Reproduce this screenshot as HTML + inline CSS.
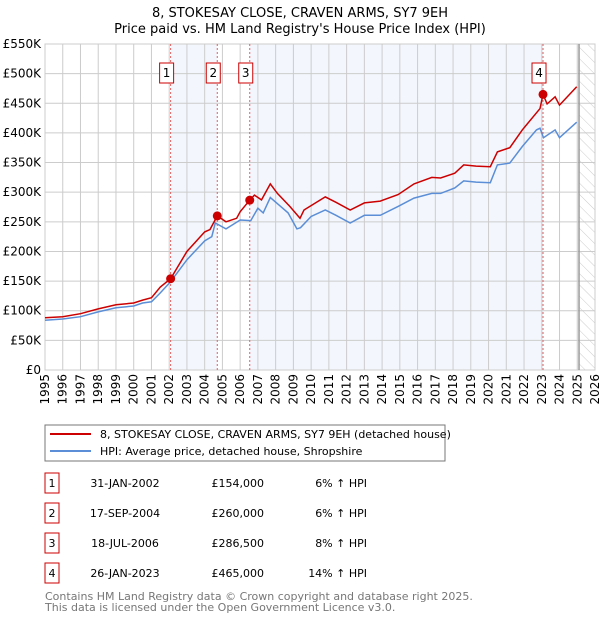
<!DOCTYPE html>
<html><head><meta charset="utf-8"><style>
body{margin:0;background:#fff}
svg text{font-family:"DejaVu Sans","Liberation Sans",sans-serif}
</style></head><body>
<svg id="c" width="600" height="620" xmlns="http://www.w3.org/2000/svg"></svg>
<script>
const hpiYears=[1995,1996,1997,1998,1999,2000,2000.5,2001,2001.5,2002.08,2003,2004,2004.4,2004.6,2005.2,2006,2006.6,2007,2007.3,2007.7,2008.2,2008.7,2009.2,2009.4,2010,2010.8,2011.4,2012.2,2013,2013.9,2014.9,2015.8,2016.8,2017.3,2018.1,2018.6,2019.3,2020.1,2020.5,2021.2,2021.9,2022.7,2022.9,2023.1,2023.75,2024.0,2024.97];
const hpiValues=[84,86,90,98,105,108,113,115,130,149,186,218,225,248,238,253,252,273,265,291,278,265,238,240,259,270,261,248,261,261,276,290,298,298,307,319,317,316,346,349,377,405,408,392,405,392,418];
const redYears=[1995,1996,1997,1998,1999,2000,2000.5,2001,2001.5,2002.08,2003,2004,2004.3,2004.71,2005.2,2005.8,2006.0,2006.54,2006.8,2007.2,2007.7,2008.1,2008.8,2009.37,2009.6,2010.8,2011.4,2012.2,2013,2013.9,2014.9,2015.8,2016.8,2017.3,2018.1,2018.6,2019.3,2020.1,2020.5,2021.2,2021.9,2022.9,2023.07,2023.3,2023.75,2024.0,2024.97];
const redValues=[88,90,95,103,110,113,118,122,140,154,200,233,237,260,250,256,267,286.5,295,287,314,298,276,256,270,292,283,270,282,285,296,314,325,324,332,346,344,343,368,375,405,441,465,449,461,447,478];
const saleYears=[2002.08,2004.71,2006.54,2023.07];
const saleValues=[154,260,286.5,465];
const saleLabels=["1","2","3","4"];
const yTicks=[0,50,100,150,200,250,300,350,400,450,500,550];
const yTickLabels=["£0","£50K","£100K","£150K","£200K","£250K","£300K","£350K","£400K","£450K","£500K","£550K"];
const xTicks=[1995,1996,1997,1998,1999,2000,2001,2002,2003,2004,2005,2006,2007,2008,2009,2010,2011,2012,2013,2014,2015,2016,2017,2018,2019,2020,2021,2022,2023,2024,2025,2026];
const rows=[["1","31-JAN-2002","£154,000","6% ↑ HPI"],["2","17-SEP-2004","£260,000","6% ↑ HPI"],["3","18-JUL-2006","£286,500","8% ↑ HPI"],["4","26-JAN-2023","£465,000","14% ↑ HPI"]];

const L=45,R=595,T=44,B=370;
const X=y=>L+(y-1995)*(R-L)/31;
const Y=v=>B-v*(B-T)/550;
const svg=document.getElementById('c');
const NS="http://www.w3.org/2000/svg";
function mk(tag,attrs,name,parent){const e=document.createElementNS(NS,tag);for(const k in attrs)e.setAttribute(k,attrs[k]);


(parent||svg).appendChild(e);return e;}
function tx(s,x,y,name,opts){const e=mk('text',Object.assign({x:x,y:y,'font-size':12,fill:'#000'},opts||{}),name);e.textContent=s;return e;}

tx("8, STOKESAY CLOSE, CRAVEN ARMS, SY7 9EH",300,17,'chart-title',{'text-anchor':'middle','font-size':13});
tx("Price paid vs. HM Land Registry's House Price Index (HPI)",300,33,'chart-subtitle',{'text-anchor':'middle','font-size':13});
mk('rect',{x:X(saleYears[0]),y:T,width:X(saleYears[1])-X(saleYears[0]),height:B-T,fill:'#eef3fc',opacity:0.7},'shade-1-2');
mk('rect',{x:X(saleYears[2]),y:T,width:X(saleYears[3])-X(saleYears[2]),height:B-T,fill:'#eef3fc',opacity:0.7},'shade-3-4');
const defs=mk('defs',{},'defs');
const pat=mk('pattern',{id:'h',width:8,height:8,patternUnits:'userSpaceOnUse',patternTransform:'rotate(-45)'},'hatch-pattern',defs);
mk('line',{x1:0,y1:0,x2:0,y2:8,stroke:'#ccc','stroke-width':1},'hatch-line',pat);
mk('rect',{x:X(2025.1),y:T,width:R-X(2025.1),height:B-T,fill:'url(#h)'},'future-hatch');
yTicks.forEach((v,i)=>{mk('line',{x1:L,x2:R,y1:Y(v),y2:Y(v),stroke:'#ccc'},'y-grid');
tx(yTickLabels[i],L-4,Y(v)+4,'y-tick-label',{'text-anchor':'end','font-size':12});});
xTicks.forEach(v=>{mk('line',{x1:X(v),x2:X(v),y1:T,y2:B,stroke:'#ccc'},'x-grid');
tx(String(v),X(v)+4,B+4,'x-tick-label',{'text-anchor':'end',transform:`rotate(-90 ${X(v)+4} ${B+4})`,'font-size':12});});
mk('rect',{x:L,y:T,width:R-L,height:B-T,fill:'none',stroke:'#ccc'},'plot-border');
mk('line',{x1:X(2025.1),x2:X(2025.1),y1:T,y2:B,stroke:'#999','stroke-width':1.5},'data-end-line');
saleYears.forEach((s,i)=>{mk('line',{x1:X(s),x2:X(s),y1:T,y2:B,stroke:'#e06060','stroke-dasharray':'2,2'},'sale-line-'+saleLabels[i]);
const bx=X(s)-4;
mk('rect',{x:bx-7,y:63,width:14,height:20,fill:'#fff',stroke:'#c00'},'sale-marker-box-'+saleLabels[i]);
tx(saleLabels[i],bx,77,'sale-marker-label',{'text-anchor':'middle'});});
function path(xs,vs){return xs.map((y,i)=>(i?'L':'M')+X(y).toFixed(1)+','+Y(vs[i]).toFixed(1)).join('');}
mk('path',{d:path(hpiYears,hpiValues),fill:'none',stroke:'#5b8ed6','stroke-width':1.5},'hpi-line');
mk('path',{d:path(redYears,redValues),fill:'none',stroke:'#cc0000','stroke-width':1.5},'property-line');
saleYears.forEach((s,i)=>mk('circle',{cx:X(s),cy:Y(saleValues[i]),r:4.5,fill:'#cc0000'},'sale-point-'+saleLabels[i]));
mk('rect',{x:45,y:425,width:400,height:36,fill:'#fff',stroke:'#777'},'legend');
mk('line',{x1:50,x2:91,y1:434,y2:434,stroke:'#cc0000','stroke-width':2},'legend-swatch-property');
tx("8, STOKESAY CLOSE, CRAVEN ARMS, SY7 9EH (detached house)",100,438,'legend-entry-property',{'font-size':11});
mk('line',{x1:50,x2:91,y1:451,y2:451,stroke:'#5b8ed6','stroke-width':2},'legend-swatch-hpi');
tx("HPI: Average price, detached house, Shropshire",100,455,'legend-entry-hpi',{'font-size':11});
rows.forEach((r,i)=>{const cy=483+i*30;
mk('rect',{x:45,y:cy-10,width:14,height:20,fill:'#fff',stroke:'#c00'},'table-badge-'+r[0]);
tx(r[0],52,cy+4,'table-badge-label',{'text-anchor':'middle','font-size':11});
tx(r[1],125,cy+4,'table-date',{'text-anchor':'middle','font-size':11});
tx(r[2],264,cy+4,'table-price',{'text-anchor':'end','font-size':11});
tx(r[3],367,cy+4,'table-hpi-change',{'text-anchor':'end','font-size':11});});
tx("Contains HM Land Registry data © Crown copyright and database right 2025.",45,600,'footer-line-1',{fill:'#777','font-size':11});
tx("This data is licensed under the Open Government Licence v3.0.",45,611,'footer-line-2',{fill:'#777','font-size':11});
</script>
</body></html>
